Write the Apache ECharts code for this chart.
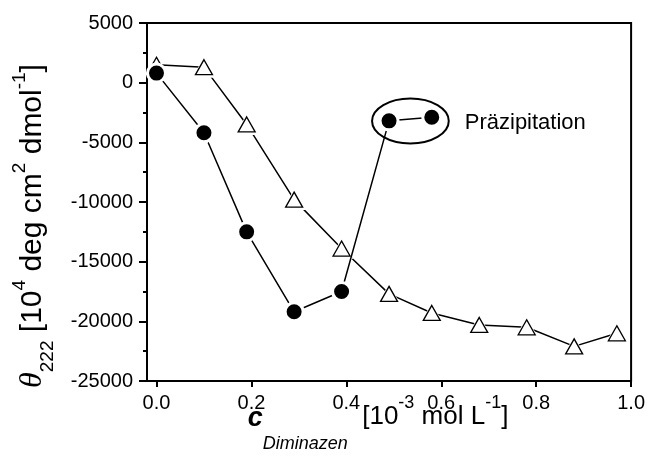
<!DOCTYPE html>
<html>
<head>
<meta charset="utf-8">
<script src="https://cdn.jsdelivr.net/npm/echarts@6/dist/echarts.min.js"></script>
<style>
  html, body { margin: 0; padding: 0; background: #fff; }
  #chart { width: 648px; height: 459px; }
</style>
</head>
<body>
<div id="chart"></div>
<script>
// Dreiecke (offene Symbole)
const concTriangle = [0.0, 0.1, 0.19, 0.29, 0.39, 0.49, 0.58, 0.68, 0.78, 0.88, 0.97];
const thetaTriangle = [1500, 1300, -3500, -9800, -13900, -17700, -19300, -20300, -20500, -22100, -21000];

// Kreise (gefüllte Symbole)
const concCircle = [0.0, 0.1, 0.19, 0.29, 0.39, 0.49, 0.58];
const thetaCircle = [800, -4200, -12500, -19200, -17500, -3200, -2900];

// Achsenbeschriftung
const xTicks = [0.0, 0.2, 0.4, 0.6, 0.8, 1.0];
const precipIdx = [5, 6];
const precipLabel = "Präzipitation";

const FONT = "Liberation Sans, Arial, sans-serif";
const zip = (xs, ys) => xs.map((x, i) => [x, ys[i]]);

const chart = echarts.init(document.getElementById("chart"));

chart.setOption({
  animation: false,
  grid: {
    left: 147,
    right: 16,
    top: 23,
    bottom: 78,
    show: true,
    borderColor: "#000",
    borderWidth: 2,
  },
  xAxis: {
    type: "value",
    min: -0.02,
    max: 1.0,
    splitLine: { show: false },
    axisLine: { onZero: false, lineStyle: { color: "#000", width: 2 } },
    axisTick: { length: 6, customValues: xTicks, lineStyle: { color: "#000", width: 2 } },
    axisLabel: {
      customValues: xTicks,
      formatter: (v) => v.toFixed(1),
      fontFamily: FONT,
      fontSize: 20,
      color: "#000",
      margin: 12,
    },
    name: "{c|c}{sub|Diminazen}{m|  [10}{sup|-3}{m| mol L}{sup|-1}{m|]}",
    nameLocation: "middle",
    nameGap: 0,
    nameMoveOverlap: false,
    nameTextStyle: {
      padding: [0, 22, 0, 0],
      rich: {
        m: { fontFamily: FONT, fontSize: 26, color: "#000", verticalAlign: "middle" },
        c: { fontFamily: FONT, fontSize: 27, color: "#000", fontStyle: "italic", fontWeight: "bold", verticalAlign: "middle", padding: [4, 0, 0, 0] },
        sup: { fontFamily: FONT, fontSize: 18, color: "#000", verticalAlign: "middle", padding: [0, 0, 28, 0] },
        sub: { fontFamily: FONT, fontSize: 18, color: "#000", fontStyle: "italic", verticalAlign: "middle", padding: [54, 0, 0, 0] },
      },
    },
  },
  yAxis: {
    type: "value",
    min: -25000,
    max: 5000,
    interval: 5000,
    splitLine: { show: false },
    axisLine: { onZero: false, lineStyle: { color: "#000", width: 2 } },
    axisTick: { length: 8, lineStyle: { color: "#000", width: 2 } },
    minorTick: { show: true, splitNumber: 2, length: 4, lineStyle: { color: "#000", width: 2 } },
    axisLabel: {
      formatter: (v) => String(v),
      fontFamily: FONT,
      fontSize: 20,
      color: "#000",
      margin: 14,
    },
    name: "{th|θ}{sub|222}{m| [10}{sup|4}{m| deg cm}{sup|2}{m| dmol}{sup|-1}{m|]}",
    nameLocation: "middle",
    nameRotate: 90,
    nameGap: 90,
    nameMoveOverlap: false,
    nameTextStyle: {
      padding: [0, 48, 0, 0],
      rich: {
        m: { fontFamily: FONT, fontSize: 30, color: "#000", verticalAlign: "middle" },
        th: { fontFamily: "Liberation Serif, serif", fontSize: 32, color: "#000", fontStyle: "italic", verticalAlign: "middle" },
        sup: { fontFamily: FONT, fontSize: 19, color: "#000", verticalAlign: "middle", padding: [0, 0, 26, 0] },
        sub: { fontFamily: FONT, fontSize: 19, color: "#000", verticalAlign: "middle", padding: [30, 0, 0, 0] },
      },
    },
  },
  series: [
    {
      // Linie mit weißem Hof um die Dreiecke
      type: "line",
      z: 2,
      data: zip(concTriangle, thetaTriangle),
      symbol: "triangle",
      symbolSize: [23, 21],
      itemStyle: { color: "#fff" },
      lineStyle: { color: "#000", width: 1.5 },
      silent: true,
    },
    {
      type: "scatter",
      z: 3,
      data: zip(concTriangle, thetaTriangle),
      symbol: "triangle",
      symbolSize: [17, 15],
      itemStyle: { color: "#fff", borderColor: "#000", borderWidth: 1.3, opacity: 1 },
      silent: true,
    },
    {
      type: "line",
      z: 4,
      data: zip(concCircle, thetaCircle),
      symbol: "circle",
      symbolSize: 18,
      itemStyle: { color: "#000", borderColor: "#fff", borderWidth: 3 },
      lineStyle: { color: "#000", width: 1.5 },
      silent: true,
    },
  ],
});

// Ellipse um die Präzipitationspunkte
const pa = chart.convertToPixel({ gridIndex: 0 }, [concCircle[precipIdx[0]], thetaCircle[precipIdx[0]]]);
const pb = chart.convertToPixel({ gridIndex: 0 }, [concCircle[precipIdx[1]], thetaCircle[precipIdx[1]]]);
const cx = (pa[0] + pb[0]) / 2;
const cy = (pa[1] + pb[1]) / 2 + 2;

chart.setOption({
  graphic: [
    {
      type: "ellipse",
      shape: { cx: cx, cy: cy, rx: (pb[0] - pa[0]) / 2 + 17, ry: 22.5 },
      style: { fill: "none", stroke: "#000", lineWidth: 2 },
      z: 10,
    },
    {
      type: "text",
      x: pb[0] + 33,
      y: cy + 2,
      style: {
        text: precipLabel,
        fontFamily: FONT,
        fontSize: 22,
        fill: "#000",
        verticalAlign: "middle",
      },
      z: 10,
    },
  ],
});
</script>
</body>
</html>
